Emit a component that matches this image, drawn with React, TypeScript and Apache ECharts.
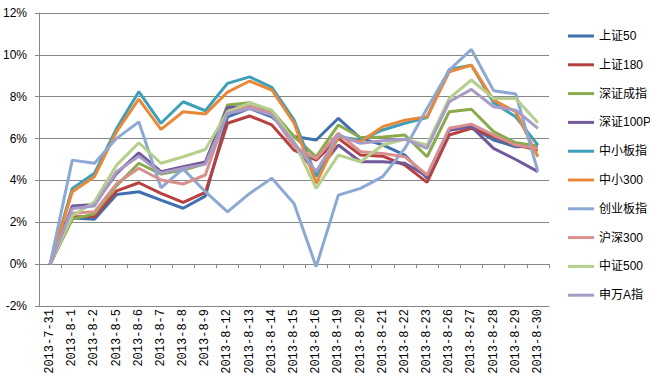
import React, { useEffect, useRef } from "react";
import * as echarts from "echarts";

const categories = [
  "2013-7-31", "2013-8-1", "2013-8-2", "2013-8-5", "2013-8-6", "2013-8-7", "2013-8-8", "2013-8-9",
  "2013-8-12", "2013-8-13", "2013-8-14", "2013-8-15", "2013-8-16", "2013-8-19", "2013-8-20",
  "2013-8-21", "2013-8-22", "2013-8-23", "2013-8-26", "2013-8-27", "2013-8-28", "2013-8-29", "2013-8-30",
];

const seriesNames = ["上证50", "上证180", "深证成指", "深证100P", "中小板指", "中小300", "创业板指", "沪深300", "中证500", "申万A指"];

const sz50 = [0, 2.2, 2.15, 3.33, 3.46, 3.06, 2.67, 3.25, 7.04, 7.44, 7.04, 6.1, 5.93, 6.97, 6.01, 5.7, 5.21, 4.1, 6.41, 6.57, 5.93, 5.61, 5.65];
const sz180 = [0, 2.27, 2.28, 3.5, 3.89, 3.38, 2.95, 3.43, 6.73, 7.08, 6.65, 5.45, 4.97, 6.01, 5.21, 5.16, 4.73, 3.91, 6.17, 6.49, 6.1, 5.69, 5.45];
const szcz = [0, 2.15, 2.4, 3.75, 4.82, 4.3, 4.5, 4.8, 7.6, 7.71, 7.33, 6.1, 5.13, 6.65, 6.05, 6.08, 6.17, 5.13, 7.28, 7.4, 6.33, 5.8, 5.64];
const sz100p = [0, 2.78, 2.85, 4.34, 5.32, 4.42, 4.65, 4.88, 7.49, 7.52, 7.2, 5.7, 4.35, 5.69, 4.89, 4.89, 4.82, 4.2, 6.4, 6.57, 5.53, 5.0, 4.42];
const zxbz = [0, 3.62, 4.34, 6.49, 8.24, 6.73, 7.76, 7.33, 8.64, 8.95, 8.45, 6.9, 4.18, 6.09, 5.93, 6.41, 6.73, 7.0, 9.3, 9.5, 7.71, 7.04, 5.69];
const zx300 = [0, 3.46, 4.18, 6.33, 7.89, 6.44, 7.28, 7.17, 8.22, 8.75, 8.32, 6.75, 3.86, 6.09, 5.85, 6.57, 6.88, 7.04, 9.19, 9.51, 7.84, 7.28, 5.13];
const cybz = [0, 4.97, 4.82, 6.01, 6.8, 3.65, 4.55, 3.46, 2.5, 3.38, 4.1, 2.9, -0.12, 3.3, 3.62, 4.18, 5.53, 7.44, 9.27, 10.26, 8.29, 8.13, 4.42];
const hs300 = [0, 2.43, 2.5, 3.85, 4.58, 4.02, 3.83, 4.26, 7.3, 7.55, 7.2, 5.6, 5.05, 6.25, 5.37, 5.29, 5.13, 4.26, 6.49, 6.69, 6.17, 5.69, 5.53];
const zz500 = [0, 2.3, 2.98, 4.73, 5.8, 4.82, 5.13, 5.48, 7.28, 7.71, 7.36, 5.85, 3.62, 5.21, 4.89, 5.69, 5.97, 5.69, 7.92, 8.8, 7.92, 7.92, 6.76];
const swaz = [0, 2.66, 2.78, 4.42, 5.16, 4.35, 4.58, 4.78, 7.2, 7.44, 7.12, 5.8, 4.42, 6.17, 5.77, 5.9, 5.97, 5.53, 7.76, 8.35, 7.52, 7.36, 6.49];

const seriesData = [sz50, sz180, szcz, sz100p, zxbz, zx300, cybz, hs300, zz500, swaz];
const colors = ["#4170B0", "#B7413E", "#8AAB4C", "#72599A", "#3E9FB8", "#EA8838", "#8CA8D4", "#D6918F", "#B5CF8C", "#A89BC5"];

export default function App() {
  const ref = useRef<HTMLDivElement>(null);
  useEffect(() => {
    if (!ref.current) return;
    const chart = echarts.init(ref.current, undefined, { renderer: "svg" });
    const gray = "#868686";
    chart.setOption({
      animation: false,
      color: colors,
      grid: { left: 35, right: 101, top: 13, bottom: 74, containLabel: false },
      legend: {
        orient: "vertical",
        left: 563,
        top: 24,
        itemWidth: 26,
        itemHeight: 3,
        itemGap: 14.8,
        icon: "rect",
        data: seriesNames,
        textStyle: { fontSize: 12, color: "#000", fontFamily: "Liberation Sans, Noto Sans CJK SC", lineHeight: 14 },
      },
      xAxis: [
        {
          type: "category",
          data: categories,
          boundaryGap: true,
          position: "bottom",
          axisLine: { show: true, onZero: false, lineStyle: { color: gray, width: 1 } },
          axisTick: { show: false },
          axisLabel: { rotate: 90, interval: 0, margin: 3, fontSize: 12, color: "#000", fontFamily: "Liberation Mono" },
          splitLine: { show: false },
        },
        {
          type: "category",
          data: categories,
          boundaryGap: true,
          position: "bottom",
          axisLine: { show: true, onZero: true, lineStyle: { color: gray, width: 1 } },
          axisTick: { show: true, length: 4, interval: 0, lineStyle: { color: gray } },
          axisLabel: { show: false },
          splitLine: { show: false },
        },
      ],
      yAxis: {
        type: "value",
        min: -2,
        max: 12,
        interval: 2,
        axisLine: { show: true, lineStyle: { color: gray } },
        axisTick: { show: true, length: 4, lineStyle: { color: gray } },
        axisLabel: { formatter: "{value}%", fontSize: 12, color: "#000", margin: 12, fontFamily: "Liberation Sans" },
        splitLine: { show: true, lineStyle: { color: gray, width: 1 } },
      },
      series: seriesNames.map((name, i) => ({
        name,
        type: "line",
        xAxisIndex: 0,
        data: seriesData[i],
        symbol: "none",
        showSymbol: false,
        lineStyle: { width: 3, color: colors[i] },
        itemStyle: { color: colors[i] },
      })),
    });
    return () => chart.dispose();
  }, []);
  return <div ref={ref} style={{ position: "fixed", left: 0, top: 0, width: 650, height: 380, background: "#fff" }} />;
}
